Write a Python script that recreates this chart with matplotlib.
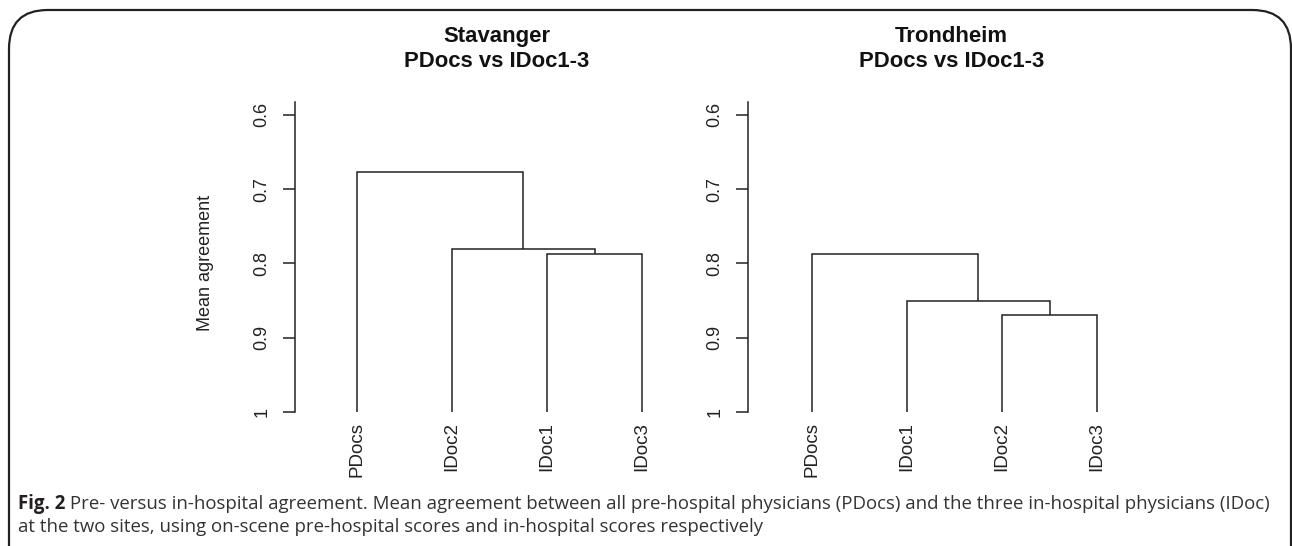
import matplotlib
matplotlib.use("Agg")
import matplotlib.pyplot as plt
from matplotlib.patches import FancyBboxPatch
import matplotlib.transforms as mtransforms

# ---- data ----
stav_title = "Stavanger\nPDocs vs IDoc1-3"
stav_labels = ["PDocs", "IDoc2", "IDoc1", "IDoc3"]
# merges: (left node, right node, height); nodes 0-3 are leaves, 4+ are clusters
stav_merges = [(2, 3, 0.787), (1, 4, 0.780), (0, 5, 0.677)]

trond_title = "Trondheim\nPDocs vs IDoc1-3"
trond_labels = ["PDocs", "IDoc1", "IDoc2", "IDoc3"]
trond_merges = [(2, 3, 0.870), (1, 4, 0.850), (0, 5, 0.787)]

yticks = [0.6, 0.7, 0.8, 0.9, 1.0]
ytick_labels = ["0.6", "0.7", "0.8", "0.9", "1"]
ylabel = "Mean agreement"

caption_bold = "Fig. 2"
caption_line1 = (" Pre- versus in-hospital agreement. Mean agreement between all pre-hospital "
                 "physicians (PDocs) and the three in-hospital physicians (IDoc)")
caption_line2 = "at the two sites, using on-scene pre-hospital scores and in-hospital scores respectively"

# ---- figure ----
W, H = 1292, 546
fig = plt.figure(figsize=(W / 100, H / 100), dpi=100)
fig.patch.set_facecolor("white")

FONT = ["Liberation Sans", "DejaVu Sans"]
LINE_C = "#222222"


def px_axes(left, right, top, bottom):
    return fig.add_axes([left / W, 1 - bottom / H, (right - left) / W, (bottom - top) / H])


def draw_panel(ax, labels, merges, title, spine_x, first_leaf_x, right_px):
    spacing = 95.0
    xlo = 1 - (first_leaf_x - spine_x) / spacing
    xhi = xlo + (right_px - spine_x) / spacing
    ax.set_xlim(xlo, xhi)
    ax.set_ylim(1.0, 0.5828)
    n = len(labels)
    xs = {i: i + 1 for i in range(n)}
    ys = {i: 1.0 for i in range(n)}
    nid = n
    for a, b, h in merges:
        xa, ya, xb, yb = xs[a], ys[a], xs[b], ys[b]
        ax.plot([xa, xa, xb, xb], [ya, h, h, yb], color=LINE_C, lw=1.1,
                solid_joinstyle="miter", solid_capstyle="butt")
        xs[nid] = (xa + xb) / 2
        ys[nid] = h
        nid += 1
    for s in ["top", "right", "bottom"]:
        ax.spines[s].set_visible(False)
    ax.spines["left"].set_color(LINE_C)
    ax.spines["left"].set_linewidth(1.1)
    ax.set_yticks(yticks)
    ax.set_yticklabels(ytick_labels, rotation=90, va="center", fontfamily=FONT,
                       fontsize=13, color="#222222")
    ax.tick_params(axis="y", length=8.6, width=1.1, color=LINE_C, pad=9)
    ax.set_xticks(range(1, n + 1))
    ax.set_xticklabels(labels, rotation=90, fontfamily=FONT, fontsize=13.5, color="#222222")
    ax.tick_params(axis="x", length=0, pad=7)
    ax.patch.set_alpha(0)
    trans = mtransforms.blended_transform_factory(ax.transData, fig.transFigure)
    ax.text((1 + n) / 2 - 0.03, 1 - 49 / H, title, transform=trans, ha="center", va="center",
            fontfamily=FONT, fontsize=15.9, fontweight="bold", linespacing=1.28, color="#111111")


ax1 = px_axes(295, 680, 102, 412)
draw_panel(ax1, stav_labels, stav_merges, stav_title, 295, 357, 680)
ax2 = px_axes(748, 1130, 102, 412)
draw_panel(ax2, trond_labels, trond_merges, trond_title, 748, 812, 1130)

fig.text(205 / W, 1 - 263 / H, ylabel, rotation=90, ha="center", va="center",
         fontfamily=FONT, fontsize=13, color="#222222")

# rounded frame
frame = FancyBboxPatch((9 / W, -0.1), (1291 - 9) / W, (H - 10) / H + 0.1,
                       boxstyle="round,pad=0,rounding_size=0.03",
                       transform=fig.transFigure, fill=False, edgecolor="#222222",
                       linewidth=1.6, mutation_aspect=W / H)
fig.patches.append(frame)

# caption
CAP_FONT = ["Open Sans", "DejaVu Sans"]
cap_c = "#333333"
CAP_FS = 13.4
fig.canvas.draw()
renderer = fig.canvas.get_renderer()
tb = fig.text(18 / W, 1 - 504 / H, caption_bold, ha="left", va="center",
              fontfamily=CAP_FONT, fontsize=CAP_FS, fontweight="bold", color="#231f20")
bb = tb.get_window_extent(renderer=renderer)
fig.text(bb.x1 / W, 1 - 504 / H, caption_line1, ha="left", va="center",
         fontfamily=CAP_FONT, fontsize=CAP_FS, color=cap_c)
fig.text(18 / W, 1 - 527 / H, caption_line2, ha="left", va="center",
         fontfamily=CAP_FONT, fontsize=CAP_FS, color=cap_c)

fig.savefig("out.png", dpi=100, facecolor="white")
